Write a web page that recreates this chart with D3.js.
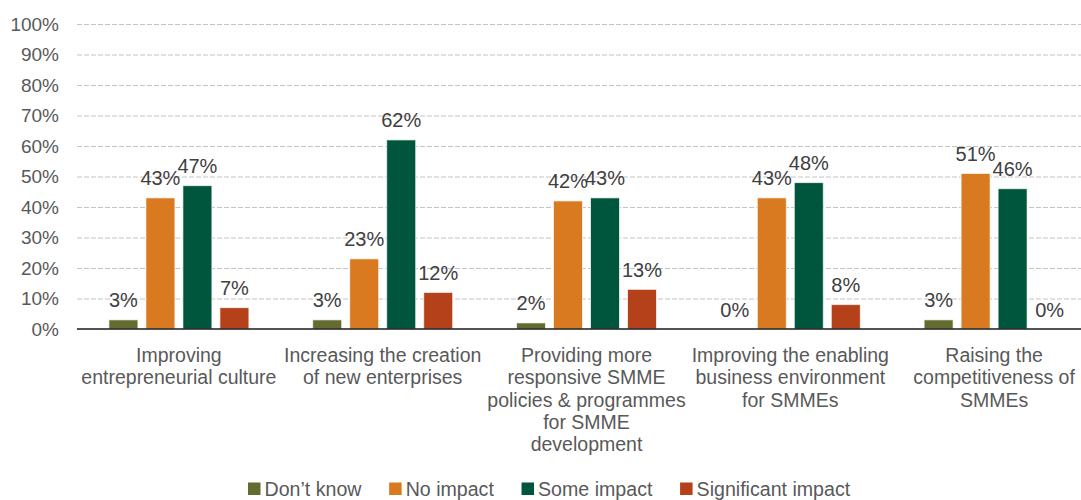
<!DOCTYPE html>
<html>
<head>
<meta charset="utf-8">
<script src="https://cdn.jsdelivr.net/npm/d3@7"></script>
<style>
  html, body { margin: 0; padding: 0; background: #fff; }
  svg { display: block; font-family: "Liberation Sans", Arial, sans-serif; }
</style>
</head>
<body>
<svg id="chart" width="1081" height="500"></svg>
<script>
// Survey: perceived impact on SMME development, by objective
const categories = [
  "Improving\nentrepreneurial culture",
  "Increasing the creation\nof new enterprises",
  "Providing more\nresponsive SMME\npolicies & programmes\nfor SMME\ndevelopment",
  "Improving the enabling\nbusiness environment\nfor SMMEs",
  "Raising the\ncompetitiveness of\nSMMEs"
];
const seriesNames = ["Don\u2019t know", "No impact", "Some impact", "Significant impact"];
const dontKnow    = [3, 3, 2, 0, 3];
const noImpact    = [43, 23, 42, 43, 51];
const someImpact  = [47, 62, 43, 48, 46];
const significant = [7, 12, 13, 8, 0];
const yTicks = [0, 10, 20, 30, 40, 50, 60, 70, 80, 90, 100];
const seriesColors = ["#636b2f", "#d97a20", "#00553d", "#b5411a"];

const seriesValues = [dontKnow, noImpact, someImpact, significant];
const rows = categories.map((c, i) => ({
  category: c,
  values: seriesNames.map((s, j) => ({ series: s, value: seriesValues[j][i] }))
}));

const width = 1081;
const svg = d3.select("#chart");
// the category band runs a little past the right edge of the canvas
const plot = { left: 77, right: 1096, top: 24, bottom: 329 };

const x0 = d3.scaleBand().domain(categories).range([plot.left, plot.right]).paddingInner(0).paddingOuter(0);
const x1 = d3.scaleBand().domain(seriesNames).range([0, x0.bandwidth()]).paddingInner(0.216).paddingOuter(0.862);
const y = d3.scaleLinear().domain([0, 100]).range([plot.bottom, plot.top]);
const color = d3.scaleOrdinal().domain(seriesNames).range(seriesColors);

// dashed horizontal gridlines
svg.append("g")
  .selectAll("line")
  .data(yTicks.filter(d => d > 0))
  .join("line")
  .attr("x1", plot.left).attr("x2", width)
  .attr("y1", d => y(d) + 0.5).attr("y2", d => y(d) + 0.5)
  .attr("stroke", "#c4c4c4")
  .attr("stroke-width", 1)
  .attr("stroke-dasharray", "5,2");

// y axis labels
const yAxis = d3.axisLeft(y).tickValues(yTicks).tickFormat(d => d + "%").tickSize(0).tickPadding(0);
const yg = svg.append("g").attr("transform", `translate(59,0)`).call(yAxis);
yg.select(".domain").remove();
yg.selectAll("text")
  .attr("fill", "#595959")
  .style("font-size", "19px")
  .style("font-family", "'Liberation Sans', Arial, sans-serif");

// bars
const groups = svg.append("g")
  .selectAll("g")
  .data(rows)
  .join("g")
  .attr("transform", d => `translate(${x0(d.category)},0)`);

groups.selectAll("rect")
  .data(d => d.values)
  .join("rect")
  .attr("x", d => x1(d.series))
  .attr("width", x1.bandwidth())
  .attr("y", d => y(d.value))
  .attr("height", d => y(0) - y(d.value))
  .attr("fill", d => color(d.series))
  .attr("stroke", "#ffffff")
  .attr("stroke-opacity", 0.7)
  .attr("stroke-width", 1);

// value labels
groups.selectAll("text")
  .data(d => d.values)
  .join("text")
  .attr("x", d => x1(d.series) + x1.bandwidth() / 2)
  .attr("y", d => y(d.value) - 12.5)
  .attr("text-anchor", "middle")
  .attr("fill", "#404040")
  .style("font-size", "20px")
  .text(d => d.value + "%");

// baseline
svg.append("line")
  .attr("x1", plot.left).attr("x2", width)
  .attr("y1", y(0)).attr("y2", y(0))
  .attr("stroke", "#1a1a1a")
  .attr("stroke-width", 1.6);

// category labels
const xAxis = d3.axisBottom(x0).tickSize(0).tickFormat("");
const xg = svg.append("g").attr("transform", `translate(0,${plot.bottom})`).call(xAxis);
xg.select(".domain").remove();
xg.selectAll(".tick").each(function(d) {
  const t = d3.select(this).append("text")
    .attr("text-anchor", "middle")
    .attr("fill", "#595959")
    .style("font-size", "19.5px");
  d.split("\n").forEach((line, i) => {
    t.append("tspan").attr("x", 0).attr("y", 32.7 + i * 22.4).text(line);
  });
});

// legend along the bottom edge
const legend = svg.append("g").attr("transform", "translate(248,0)");
let lx = 0;
seriesNames.forEach((s, i) => {
  const item = legend.append("g").attr("transform", `translate(${lx},0)`);
  item.append("rect")
    .attr("x", 0).attr("y", 482.5)
    .attr("width", 12.5).attr("height", 12.5)
    .attr("fill", seriesColors[i]);
  const txt = item.append("text")
    .attr("x", 16.5).attr("y", 496)
    .attr("fill", "#595959")
    .style("font-size", "19.6px")
    .text(s);
  lx += 16.5 + txt.node().getComputedTextLength() + 27.7;
});
</script>
</body>
</html>
